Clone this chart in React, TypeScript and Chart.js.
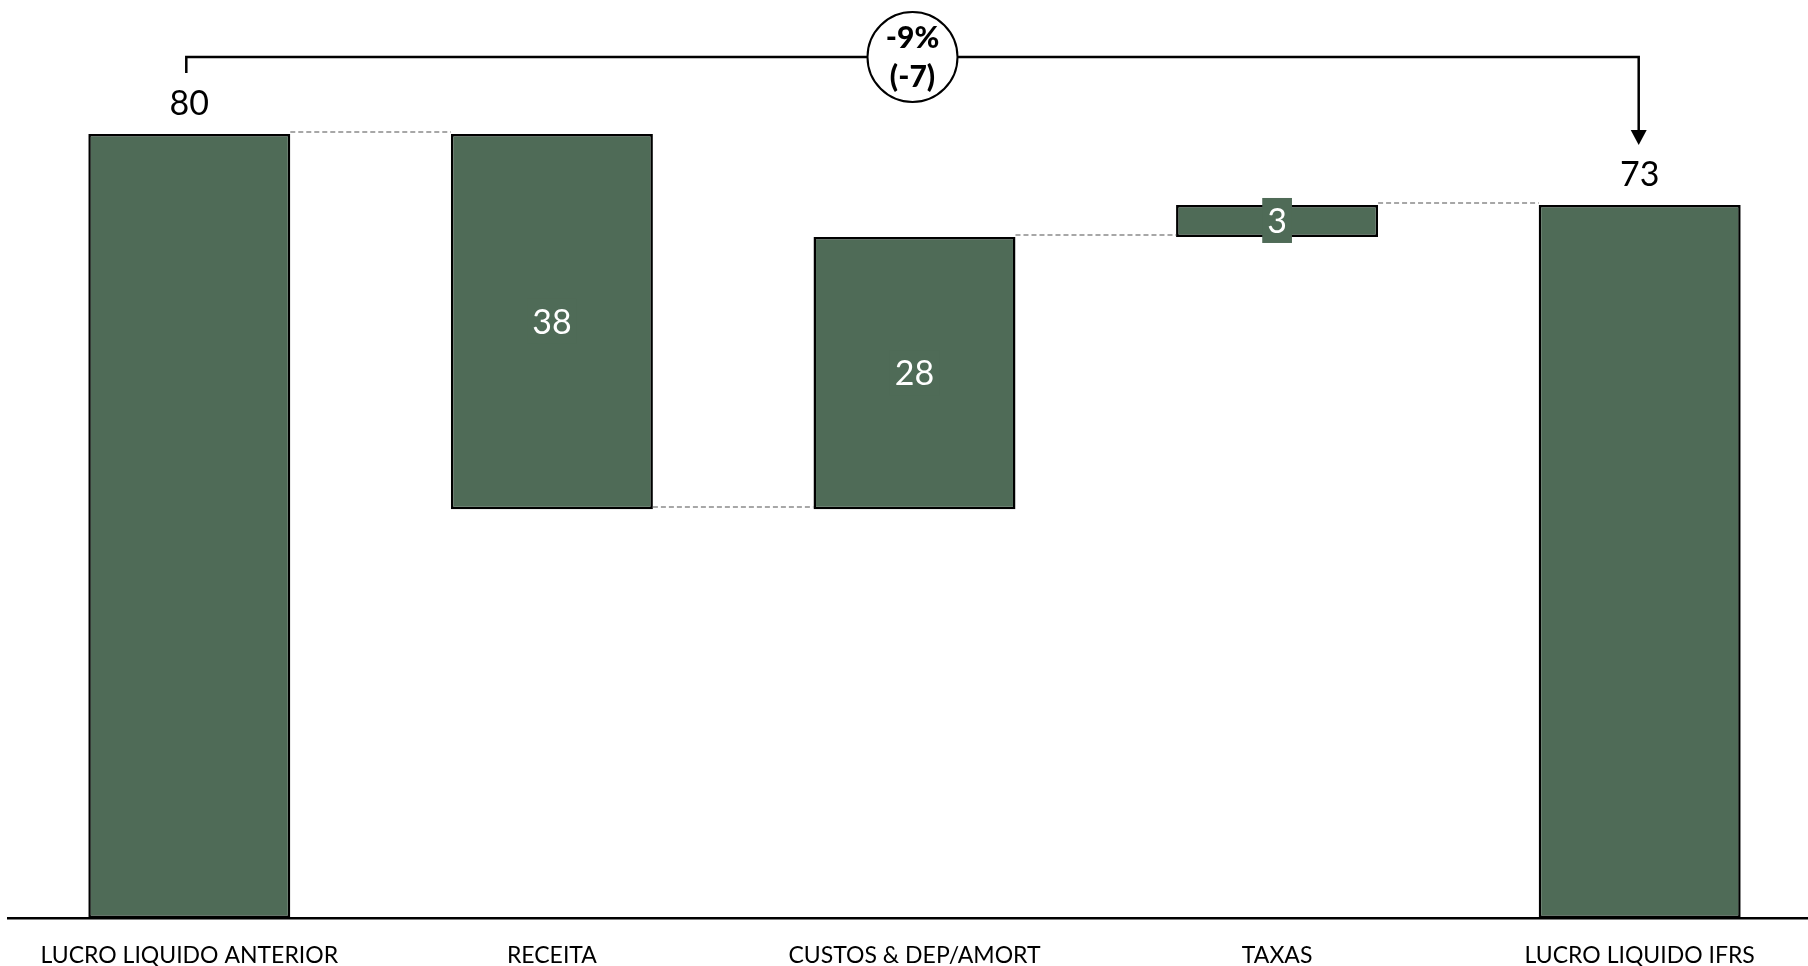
import React, { useEffect, useRef } from "react";
import { Chart, registerables } from "chart.js";

Chart.register(...registerables);

const categories = ["LUCRO LIQUIDO ANTERIOR", "RECEITA", "CUSTOS & DEP/AMORT", "TAXAS", "LUCRO LIQUIDO IFRS"];
const startValue = 80;
const deltas = [-38.3, 27.8, 3.25];
const endValue = 72.75;
const barLabels = ["80", "38", "28", "3", "73"];
const changePct = "-9%";
const changeAbs = "(-7)";

const BAR_COLOR = "#4F6B57";

const floating: [number, number][] = [];
const connectorLevels: number[] = [startValue];
floating.push([0, startValue]);
let running = startValue;
for (const d of deltas) {
  const next = running + d;
  floating.push([Math.min(running, next), Math.max(running, next)]);
  running = next;
  connectorLevels.push(running);
}
floating.push([0, endValue]);
const isTotal = [true, false, false, false, true];

const decorPlugin = {
  id: "waterfallDecor",
  afterDatasetsDraw(chart: any) {
    const ctx = chart.ctx as CanvasRenderingContext2D;
    const yScale = chart.scales.y;
    const bars = chart.getDatasetMeta(0).data as any[];
    ctx.save();

    // connectors
    ctx.strokeStyle = "#8a8a8a";
    ctx.lineWidth = 1.5;
    ctx.setLineDash([5, 3]);
    for (let i = 0; i < bars.length - 1; i++) {
      const a = bars[i];
      const b = bars[i + 1];
      const py = Math.round(yScale.getPixelForValue(connectorLevels[i])) - 2;
      ctx.beginPath();
      ctx.moveTo(a.x + a.width / 2, py);
      ctx.lineTo(b.x - b.width / 2, py);
      ctx.stroke();
    }
    ctx.setLineDash([]);

    // value labels
    const fs = 34;
    ctx.font = `${fs}px Lato, "Open Sans", sans-serif`;
    ctx.textAlign = "center";
    ctx.textBaseline = "alphabetic";
    bars.forEach((bar, i) => {
      const top = Math.min(bar.y, bar.base);
      const bottom = Math.max(bar.y, bar.base);
      if (isTotal[i]) {
        ctx.fillStyle = "#000";
        ctx.fillText(barLabels[i], bar.x, top - 19.5);
      } else {
        const cy = (top + bottom) / 2;
        const w = ctx.measureText(barLabels[i]).width + 10;
        ctx.fillStyle = BAR_COLOR;
        ctx.fillRect(bar.x - w / 2, cy - 23, w, 45);
        ctx.fillStyle = "#fff";
        ctx.fillText(barLabels[i], bar.x, cy + 0.358 * fs);
      }
    });

    // bracket
    const first = bars[0];
    const last = bars[bars.length - 1];
    const firstTop = Math.min(first.y, first.base);
    const lastTop = Math.min(last.y, last.base);
    const hy = firstTop - 77;
    const x1 = first.x - 3;
    const x2 = last.x - 1;
    ctx.strokeStyle = "#000";
    ctx.lineWidth = 2.5;
    ctx.beginPath();
    ctx.moveTo(x1, firstTop - 61);
    ctx.lineTo(x1, hy);
    ctx.lineTo(x2, hy);
    ctx.lineTo(x2, lastTop - 72);
    ctx.stroke();
    // arrow head
    const tip = lastTop - 60;
    ctx.fillStyle = "#000";
    ctx.beginPath();
    ctx.moveTo(x2 - 8, tip - 15);
    ctx.lineTo(x2 + 8, tip - 15);
    ctx.lineTo(x2, tip);
    ctx.closePath();
    ctx.fill();

    // circle
    const cx = (x1 + x2) / 2;
    ctx.beginPath();
    ctx.arc(cx, hy, 45, 0, Math.PI * 2);
    ctx.fillStyle = "#fff";
    ctx.fill();
    ctx.lineWidth = 2;
    ctx.stroke();
    ctx.fillStyle = "#000";
    ctx.font = `900 30px Lato, "Open Sans", sans-serif`;
    ctx.textBaseline = "middle";
    ctx.fillText(changePct, cx, hy - 19);
    ctx.fillText(changeAbs, cx, hy + 20);

    ctx.restore();
  },
};

export default function App() {
  const canvasRef = useRef<HTMLCanvasElement | null>(null);

  useEffect(() => {
    if (!canvasRef.current) return;
    const chart = new Chart(canvasRef.current, {
      type: "bar",
      data: {
        labels: categories,
        datasets: [
          {
            data: floating as any,
            backgroundColor: BAR_COLOR,
            borderColor: "#000",
            borderWidth: 2.5,
            borderSkipped: false,
            categoryPercentage: 0.557,
            barPercentage: 1,
          },
        ],
      },
      options: {
        animation: false,
        responsive: true,
        maintainAspectRatio: false,
        layout: { padding: { left: 8, top: 36, right: 0, bottom: 0 } },
        plugins: { legend: { display: false }, tooltip: { enabled: false } },
        scales: {
          x: {
            grid: { display: false, drawTicks: false },
            border: { display: true, color: "#000", width: 2.5 },
            ticks: {
              color: "#000",
              font: { family: 'Lato, "Open Sans", sans-serif', size: 23 },
              padding: 24,
              autoSkip: false,
              maxRotation: 0,
            },
            afterFit: (scale: any) => {
              scale.height = 48;
            },
          },
          y: {
            display: false,
            min: 0,
            max: 90,
          },
        },
      },
      plugins: [decorPlugin],
    });
    return () => chart.destroy();
  }, []);

  return (
    <div style={{ position: "fixed", left: 0, top: 0, width: 1808, height: 966, overflow: "hidden", background: "#fff" }}>
      <div style={{ position: "relative", width: 1821, height: 966 }}>
        <canvas ref={canvasRef} />
      </div>
    </div>
  );
}
